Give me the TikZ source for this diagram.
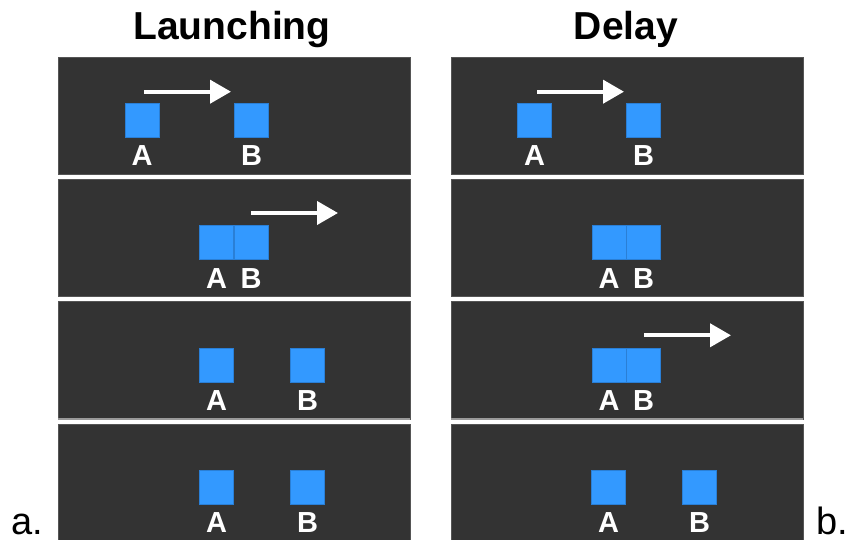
\documentclass[tikz,border=0pt]{standalone}
\usepackage{fontspec}
\setmainfont{Liberation Sans}
\usetikzlibrary{arrows.meta}
\definecolor{panelgray}{HTML}{333333}
\definecolor{paneledge}{HTML}{555555}
\definecolor{seamgray}{HTML}{9A9A9A}
\definecolor{cubeblue}{HTML}{3399FF}
\definecolor{cubeedge}{HTML}{2A7FD6}
\tikzset{
  panel/.style={fill=panelgray, draw=paneledge, line width=0.8pt},
  cube/.style={rectangle, fill=cubeblue, draw=cubeedge, line width=0.8pt,
    minimum width=34pt, minimum height=34pt, inner sep=0pt},
  cubelabel/.style={anchor=base, text=white, font=\bfseries\fontsize{29}{29}\selectfont, inner sep=0pt},
  title/.style={anchor=base, font=\bfseries\fontsize{39}{39}\selectfont, inner sep=0pt},
  sidelabel/.style={anchor=base west, font=\fontsize{38}{38}\selectfont, inner sep=0pt},
  motion/.style={white, line width=4pt, -{Triangle[length=21pt,width=23pt]}},
}
\begin{document}
\begin{tikzpicture}[x=1pt,y=-1pt]
\useasboundingbox (0,0) rectangle (847,540);
\fill[white] (0,0) rectangle (847,540);

% column titles
\node[title] (tlaunch) at (232,39.5) {Launching};
\node[title] (tdelay) at (626,39.5) {Delay};

% panel frames: left column at x=58, right column at x=451
\begin{scope}
\clip (0,0) rectangle (847,540);
\foreach \c/\x in {l/58, r/451}{
  \foreach \r in {0,1,2,3}{
    \path[panel] (\x,{57+122.3*\r}) rectangle ++(352,117.5);
  }
  \fill[seamgray] (\x,{57+122.3*2+116.5}) rectangle ++(352,2);
}
\end{scope}

% Launching: row 1
\node[cube] (la1) at (142,120.5) {};
\node[cube] (lb1) at (251.5,120.5) {};
\node[cubelabel] (lla1) at (142,166) {A};
\node[cubelabel] (llb1) at (251.5,166) {B};
\coordinate (lm1s) at (144,91.7);
\coordinate (lm1e) at (231,91.7);
\draw[motion] (lm1s) -- (lm1e);

% Launching: row 2
\node[cube] (la2) at (216.5,242.8) {};
\node[cube] (lb2) at (251,242.8) {};
\node[cubelabel] (lla2) at (216.5,288.3) {A};
\node[cubelabel] (llb2) at (251,288.3) {B};
\coordinate (lm2s) at (251,213);
\coordinate (lm2e) at (338,213);
\draw[motion] (lm2s) -- (lm2e);

% Launching: row 3
\node[cube] (la3) at (216.5,365.1) {};
\node[cube] (lb3) at (307.5,365.1) {};
\node[cubelabel] (lla3) at (216.5,410.6) {A};
\node[cubelabel] (llb3) at (307.5,410.6) {B};

% Launching: row 4
\node[cube] (la4) at (216.5,487.4) {};
\node[cube] (lb4) at (307.5,487.4) {};
\node[cubelabel] (lla4) at (216.5,532.9) {A};
\node[cubelabel] (llb4) at (307.5,532.9) {B};

% Delay: row 1
\node[cube] (da1) at (534.5,120.5) {};
\node[cube] (db1) at (643.5,120.5) {};
\node[cubelabel] (dla1) at (534.5,166) {A};
\node[cubelabel] (dlb1) at (643.5,166) {B};
\coordinate (dm1s) at (537,91.7);
\coordinate (dm1e) at (624,91.7);
\draw[motion] (dm1s) -- (dm1e);

% Delay: row 2
\node[cube] (da2) at (609,242.8) {};
\node[cube] (db2) at (643.5,242.8) {};
\node[cubelabel] (dla2) at (609,288.3) {A};
\node[cubelabel] (dlb2) at (643.5,288.3) {B};

% Delay: row 3
\node[cube] (da3) at (609,365.1) {};
\node[cube] (db3) at (643.5,365.1) {};
\node[cubelabel] (dla3) at (609,410.6) {A};
\node[cubelabel] (dlb3) at (643.5,410.6) {B};
\coordinate (dm3s) at (644,335.3);
\coordinate (dm3e) at (731,335.3);
\draw[motion] (dm3s) -- (dm3e);

% Delay: row 4
\node[cube] (da4) at (608.5,487.4) {};
\node[cube] (db4) at (699.5,487.4) {};
\node[cubelabel] (dla4) at (608.5,532.9) {A};
\node[cubelabel] (dlb4) at (699.5,532.9) {B};

% side labels
\node[sidelabel] (sa) at (11,534) {a.};
\node[sidelabel] (sb) at (816,534) {b.};
\end{tikzpicture}
\end{document}
